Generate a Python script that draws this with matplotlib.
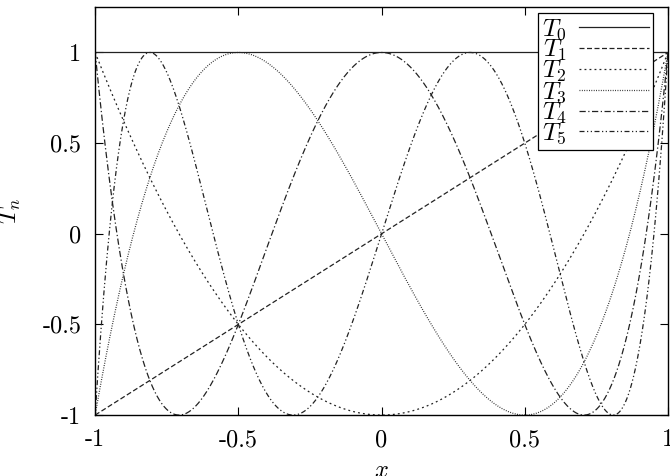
import numpy as np
import matplotlib
matplotlib.use("Agg")
import matplotlib.pyplot as plt

# Chebyshev polynomial coefficients (highest power first)
coeffs = {
    "0": [1],
    "1": [1, 0],
    "2": [2, 0, -1],
    "3": [4, 0, -3, 0],
    "4": [8, 0, -8, 0, 1],
    "5": [16, 0, -20, 0, 5, 0],
}
styles = ["-", (0, (4, 2)), (0, (1.5, 2.5)), (0, (0.7, 1.2)),
          (0, (5, 2, 1, 2)), (0, (4, 2, 1, 2, 1, 2))]

xticks = [-1, -0.5, 0, 0.5, 1]
yticks = [-1, -0.5, 0, 0.5, 1]
tick_labels_x = ["-1", "-0.5", "0", "0.5", "1"]
tick_labels_y = ["-1", "-0.5", "0", "0.5", "1"]

plt.rcParams["mathtext.fontset"] = "cm"
plt.rcParams["font.family"] = "cmr10"

fig = plt.figure(figsize=(6.7, 4.76), dpi=100)
ax = fig.add_axes([0.142, 0.128, 0.855, 0.857])

x = np.linspace(-1, 1, 1001)
for (n, c), ls in zip(coeffs.items(), styles):
    ax.plot(x, np.polyval(c, x), color="#222222", lw=0.9, ls=ls,
            label=r"$T_%s$" % n)

ax.set_xlim(-1, 1)
ax.set_ylim(-1, 1.25)
ax.set_xticks(xticks)
ax.set_xticklabels(tick_labels_x)
ax.set_yticks(yticks)
ax.set_yticklabels(tick_labels_y)
ax.tick_params(direction="in", top=True, right=True, length=6, width=0.8,
               labelsize=17.5, pad=10)
for s in ax.spines.values():
    s.set_linewidth(1.0)

ax.set_xlabel(r"$x$", fontsize=17.5, labelpad=6)
ax.set_ylabel(r"$T_n$", fontsize=17.5, labelpad=14)

leg = ax.legend(loc="upper right", bbox_to_anchor=(0.974, 0.985),
                markerfirst=False, fontsize=18,
                handlelength=2.8, handletextpad=0.5, labelspacing=-0.16,
                borderpad=0.15, borderaxespad=0.0, fancybox=False,
                framealpha=1, edgecolor="black")
leg.get_frame().set_linewidth(0.9)

fig.savefig("out.png", dpi=100)
